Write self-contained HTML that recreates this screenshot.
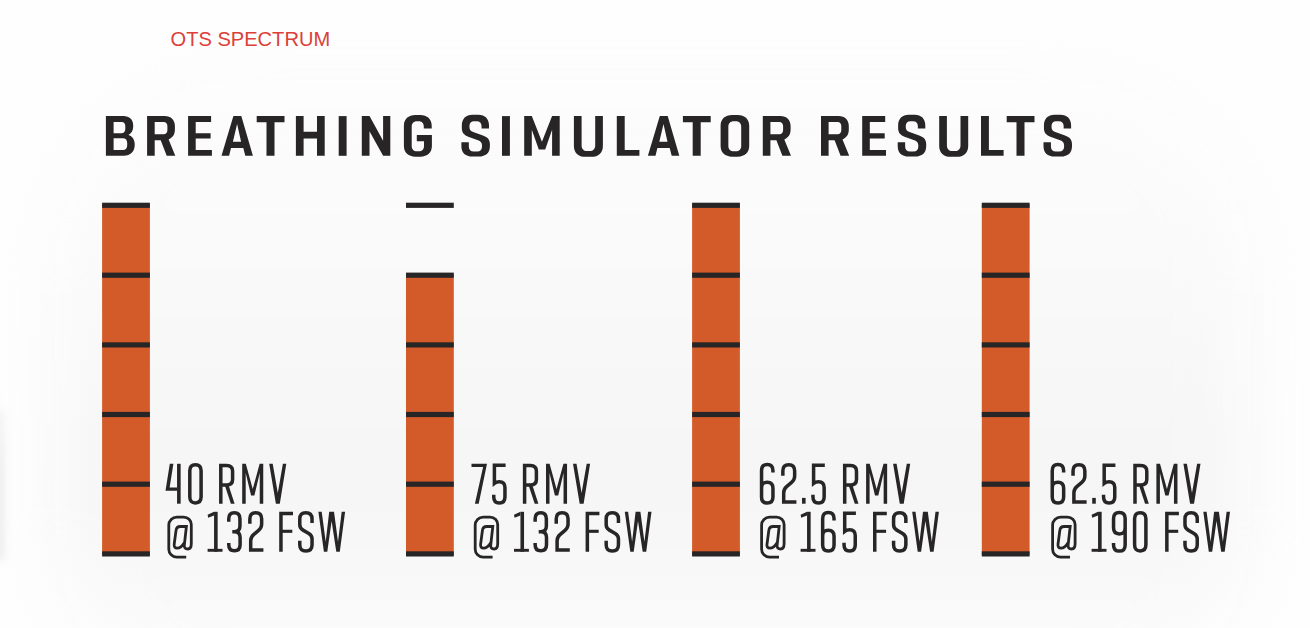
<!DOCTYPE html>
<html lang="en">
<head>
<meta charset="utf-8">
<title>Breathing Simulator Results</title>
<style>
  html, body { margin: 0; padding: 0; }
  body {
    width: 1310px; height: 628px; overflow: hidden; position: relative;
    background: #fefefe;
    font-family: "Liberation Sans", sans-serif;
  }
  .bg {
    position: absolute; left: 0; top: 0; width: 1310px; height: 628px;
    background: #fefefe; overflow: hidden;
  }
  .panel {
    position: absolute; left: 55px; top: 80px; width: 1195px; height: 640px; border-radius: 180px;
    background: linear-gradient(to bottom, #fcfcfc 0px, #fbfbfb 120px, #f9f9f9 220px, #f7f7f7 320px, #f6f6f6 400px, #f7f7f7 460px, #f9f9f9 505px, #fbfbfb 545px, #fcfcfc 600px);
    filter: blur(32px);
  }
  .edge {
    position: absolute; left: -8px; top: 410px; width: 13px; height: 150px;
    background: linear-gradient(to bottom, #f1f1f1 0, #e8e8e8 40%, #e8e8e8 100%); filter: blur(4px); opacity: .7;
  }
  .brand {
    position: absolute; left: 170.5px; top: 28.3px; margin: 0;
    font-size: 20.1px; line-height: 23px; color: #dc3f38; white-space: nowrap; letter-spacing: 0;
  }
  .art { position: absolute; left: 0; top: 0; }
  .sr {
    position: absolute; width: 1px; height: 1px; overflow: hidden;
    clip: rect(0 0 0 0); clip-path: inset(50%); white-space: nowrap;
  }
</style>
</head>
<body>
<div class="bg"><div class="panel"></div></div>
<div class="edge"></div>
<p class="brand">OTS SPECTRUM</p>
<h1 class="sr">BREATHING SIMULATOR RESULTS</h1>
<ul class="sr">
  <li>40 RMV @ 132 FSW</li>
  <li>75 RMV @ 132 FSW</li>
  <li>62.5 RMV @ 165 FSW</li>
  <li>62.5 RMV @ 190 FSW</li>
</ul>
<svg class="art" width="1310" height="628" viewBox="0 0 1310 628" role="img" aria-label="Breathing simulator results chart">
<defs>
<path id="tB" d="M0,0 H17.5 C23.5,0 27.3,3.5 27.3,9.5 V10.5 C27.3,14.5 25.5,17.5 22.5,18.8 C26.5,20 28.8,23.5 28.8,28 V29 C28.8,35.5 24.5,39.7 18,39.7 H0 Z M7.7,6 H16 C18.2,6 19.4,7.8 19.4,10 V13 C19.4,15.5 18,17.2 15.5,17.2 H7.7 Z M7.7,22.2 H17 C19.8,22.2 21.3,24.2 21.3,27 V29.2 C21.3,32 19.8,34 17,34 H7.7 Z"/>
<path id="tR" d="M0,0 H17.5 C24,0 27.8,4 27.8,10 V13.5 C27.8,18.5 25.5,21.8 21.5,23.3 L28.2,39.7 H19.6 L13.6,24.2 H7.6 V39.7 H0 Z M7.6,6 H16.5 C19,6 20.3,7.8 20.3,10.2 V14 C20.3,16.5 19,18.2 16.5,18.2 H7.6 Z"/>
<path id="tE" d="M0,0 H23 V6 H7.6 V17.2 H22.5 V22.4 H7.6 V34 H23.8 V39.7 H0 Z"/>
<path id="tA" d="M11.9,0 H19.8 L31.4,39.7 H23.8 L21.8,31.8 H9.5 L7.6,39.7 H0 Z M15.6,7.8 L19.6,25.6 H11.4 Z"/>
<path id="tT" d="M0,0 H27.8 V6.2 H17.8 V39.7 H9.8 V6.2 H0 Z"/>
<path id="tH" d="M0,0 H7.7 V15.7 H21.1 V0 H28.8 V39.7 H21.1 V22.4 H7.7 V39.7 H0 Z"/>
<path id="tI" d="M0,0 H7.9 V39.7 H0 Z"/>
<path id="tN" d="M0,0 H7.7 L21.3,24.6 V0 H28.5 V39.7 H21.3 L7.7,15.2 V39.7 H0 Z"/>
<path id="tG" d="M27.8,12.5 H19.9 V10.5 C19.9,7.3 18,5.1 15,5.1 H13 C9.8,5.1 7.8,7.3 7.8,10.5 V29.8 C7.8,33 9.8,35.2 13,35.2 H15 C18.2,35.2 20.1,33 20.1,29.8 V25.2 H12.9 V19 H28.0 V30 C28.0,36.5 23.5,40.6 16.5,40.6 H11.5 C4.5,40.6 0,36.5 0,30 V9.4 C0,2.9 4.5,-1.2 11.5,-1.2 H16.3 C23.3,-1.2 27.8,2.9 27.8,9.4 Z"/>
<path id="tS" d="M27.6,12.5 H20.15 V9.6 C20.15,6.8 18.3,5.05 15.3,5.05 H12.6 C9.8,5.05 8.06,6.8 8.06,9.6 V11.2 C8.06,13.6 9.2,15 11.8,15.9 L21.5,19.3 C26.3,21 28.5,23.6 28.5,28 V30.2 C28.5,36.8 24.3,40.5 17.3,40.5 H11 C4.2,40.5 0,36.8 0,30.2 V26.1 H7.44 V30.6 C7.44,33.6 9.3,35.3 12.4,35.3 H15.8 C18.8,35.3 20.6,33.6 20.6,30.6 V29.2 C20.6,26.6 19.3,25.2 16.6,24.2 L6.8,20.6 C2.4,19 0.43,16.3 0.43,12.2 V9.4 C0.43,2.8 4.4,-1.26 11,-1.26 H17 C23.6,-1.26 27.6,2.8 27.6,9.4 Z"/>
<path id="tM" d="M0,0 H7.6 L17.75,25.6 L27.9,0 H35.5 V39.7 H27.9 V13.7 L21,33.5 H14.6 L7.6,13.7 V39.7 H0 Z"/>
<path id="tU" d="M0,0 H7.7 V29.5 C7.7,33 9.8,35 13,35 H16 C19.2,35 21.3,33 21.3,29.5 V0 H29 V29.8 C29,36.6 24.5,40.7 17.5,40.7 H11.5 C4.5,40.7 0,36.6 0,29.8 Z"/>
<path id="tL" d="M0,0 H7.9 V34 H22.6 V39.7 H0 Z"/>
<path id="tO" d="M11.5,-1.2 H17.1 C24.1,-1.2 28.6,2.9 28.6,9.4 V30 C28.6,36.5 24.1,40.6 17.1,40.6 H11.5 C4.5,40.6 0,36.5 0,30 V9.4 C0,2.9 4.5,-1.2 11.5,-1.2 Z M13.2,5.1 C9.8,5.1 7.75,7.3 7.75,10.5 V29.8 C7.75,33 9.8,35.2 13.2,35.2 H15.2 C18.6,35.2 20.6,33 20.6,29.8 V10.5 C20.6,7.3 18.6,5.1 15.2,5.1 Z"/>
<g id="l0"><path d="M1.8,7 C1.8,2.85 3.61,0.9 7.45,0.9 C11.29,0.9 13.1,2.85 13.1,7 L13.1,33 C13.1,37.15 11.29,39.1 7.45,39.1 C3.61,39.1 1.8,37.15 1.8,33 Z" fill="none" stroke="#272526" stroke-width="3.5" stroke-linejoin="miter" stroke-miterlimit="6"/></g>
<g id="l4"><path d="M4.3,0 H7.9 L4.12,23.75 H11.6 V27.05 H0 Z" fill="#272526"/><path d="M13.35,0 V39.9" fill="none" stroke="#272526" stroke-width="3.6" stroke-linejoin="miter" stroke-miterlimit="6"/></g>
<g id="lR"><path d="M1.8,39.9 L1.8,1.7 L7.6,1.7 C11.68,1.7 13.6,3.56 13.6,7.5 L13.6,15.5 C13.6,19.44 11.68,21.3 7.6,21.3 L1.8,21.3" fill="none" stroke="#272526" stroke-width="3.5" stroke-linejoin="miter" stroke-miterlimit="6"/><path d="M5.7,21.3 H9.5 L15.6,39.9 H11.9 Z" fill="#272526"/></g>
<g id="lM"><path d="M0,0 H3.6 L10.53,25.3 L17.45,0 H21.05 V39.9 H17.55 V9.3 L12.2,31.65 H8.9 L3.5,9.3 V39.9 H0 Z" fill="#272526"/></g>
<g id="lV"><path d="M0,0 H3.5 L8.6,29.3 L13.7,0 H17.1 L10.6,39.9 H6.7 Z" fill="#272526"/></g>
<g id="lW"><path d="M0,0 H3.3 L7.3,30 L10.8,0 H15.6 L19.6,30 L23.3,0 H26.7 L21.4,39.9 H17.9 L13.2,9.3 L8.9,39.9 H5.5 Z" fill="#272526"/></g>
<g id="lF"><path d="M1.85,39.9 V1.65 H13.9" fill="none" stroke="#272526" stroke-width="3.5" stroke-linejoin="miter" stroke-miterlimit="6"/><path d="M1.85,19.5 H13.2" fill="none" stroke="#272526" stroke-width="3.1" stroke-linejoin="miter" stroke-miterlimit="6"/></g>
<g id="lS"><path d="M14.05,11.1 L14.05,7.2 C14.05,2.92 12.08,0.9 7.9,0.9 C3.74,0.9 1.78,2.92 1.78,7.2 L1.78,13 Q1.78,16.5 5,18.3 L10.8,21.6 Q14.05,23.5 14.05,27 L14.05,33 C14.05,37.25 12.08,39.25 7.9,39.25 C3.74,39.25 1.78,37.25 1.78,33 L1.78,29" fill="none" stroke="#272526" stroke-width="3.5" stroke-linejoin="miter" stroke-miterlimit="6"/></g>
<g id="l1"><path d="M8.25,0 V39.9" fill="none" stroke="#272526" stroke-width="3.6" stroke-linejoin="miter" stroke-miterlimit="6"/><path d="M0,38.5 H14.9" fill="none" stroke="#272526" stroke-width="2.9" stroke-linejoin="miter" stroke-miterlimit="6"/><path d="M6.45,0 L0,3.0 L0.6,6.0 L6.45,3.6 Z" fill="#272526"/></g>
<g id="l3"><path d="M1.75,9.9 L1.75,7 C1.75,2.92 3.54,1 7.35,1 C11.16,1 12.95,2.92 12.95,7 L12.95,14.3 C12.95,18.11 11.22,19.9 7.55,19.9 L5.3,19.9 M7.55,19.9 C11.32,19.9 13.1,21.72 13.1,25.6 L13.1,33 C13.1,37.08 11.28,39 7.4,39 C3.56,39 1.75,37.08 1.75,33 L1.75,31.3" fill="none" stroke="#272526" stroke-width="3.5" stroke-linejoin="miter" stroke-miterlimit="6"/></g>
<g id="l2"><path d="M1.75,12 L1.75,7 C1.75,2.85 3.64,0.9 7.65,0.9 C11.66,0.9 13.55,2.85 13.55,7 L13.55,12.5 Q13.55,16 10.5,18.5 L5.5,22.8 Q2.6,25.3 2.6,29 L2.6,38.3 L15.3,38.3" fill="none" stroke="#272526" stroke-width="3.5" stroke-linejoin="miter" stroke-miterlimit="6"/></g>
<g id="l5"><path d="M13.6,1.5 L2.4,1.5 L2.4,19.6 Q4.6,17.9 7.3,17.9 C11.14,17.9 12.95,19.79 12.95,23.8 L12.95,33.3 C12.95,37.38 11.16,39.3 7.35,39.3 C3.54,39.3 1.75,37.38 1.75,33.3 L1.75,31" fill="none" stroke="#272526" stroke-width="3.5" stroke-linejoin="miter" stroke-miterlimit="6"/></g>
<g id="l6"><path d="M13.15,8.7 L13.15,6.9 C13.15,2.68 11.33,0.7 7.45,0.7 C3.57,0.7 1.75,2.68 1.75,6.9 L1.75,33.2 C1.75,37.35 3.57,39.3 7.45,39.3 C11.33,39.3 13.15,37.35 13.15,33.2 L13.15,24.4 C13.15,20.29 11.33,18.35 7.45,18.35 C3.57,18.35 1.75,20.29 1.75,24.4" fill="none" stroke="#272526" stroke-width="3.5" stroke-linejoin="miter" stroke-miterlimit="6"/></g>
<g id="l9"><path d="M1.95,31.3 L1.95,33.1 C1.95,37.32 3.81,39.3 7.75,39.3 C11.69,39.3 13.55,37.32 13.55,33.1 L13.55,6.8 C13.55,2.65 11.69,0.7 7.75,0.7 C3.81,0.7 1.95,2.65 1.95,6.8 L1.95,16 C1.95,20.15 3.81,22.1 7.75,22.1 C11.69,22.1 13.55,20.15 13.55,16" fill="none" stroke="#272526" stroke-width="3.5" stroke-linejoin="miter" stroke-miterlimit="6"/></g>
<g id="l7"><path d="M0,0 H15.5 L7.2,39.9 H3.4 L11.6,3.2 H0 Z" fill="#272526"/></g>
<g id="ldot"><path d="M0,34.1 H3.6 V39.9 H0 Z" fill="#272526"/></g>
<g id="lat"><path d="M19.1,45.4 H9.7 A8,8 0 0 1 1.7,37.4 V13.26 A8,8 0 0 1 9.7,5.26 H16.7 A7.5,7.5 0 0 1 24.2,12.76 V32 C24.2,35.5 23,37.2 20.6,37.2 C18.2,37.2 17.0,35.8 17.2,33.5 L19.3,14.7 H13.2 C10.5,14.7 9.2,16.3 8.9,18.8 L7.1,32.5 C6.8,35 7.8,36.4 10,36.4 C13,36.4 15.5,34 17.2,31" fill="none" stroke="#272526" stroke-width="2.8" stroke-linejoin="miter" stroke-miterlimit="6"/></g>
</defs>
<g id="bars">
<rect x="102.1" y="204.2" width="47.8" height="350.8" fill="#D35B29"/>
<rect x="102.1" y="202.7" width="47.8" height="5.2" fill="#272526"/>
<rect x="102.1" y="272.6" width="47.8" height="5.2" fill="#272526"/>
<rect x="102.1" y="342.3" width="47.8" height="5.2" fill="#272526"/>
<rect x="102.1" y="411.9" width="47.8" height="5.2" fill="#272526"/>
<rect x="102.1" y="481.6" width="47.8" height="5.2" fill="#272526"/>
<rect x="102.1" y="551.3" width="47.8" height="5.2" fill="#272526"/>
<rect x="406" y="274.1" width="47.8" height="280.9" fill="#D35B29"/>
<rect x="406" y="202.7" width="47.8" height="5.2" fill="#272526"/>
<rect x="406" y="272.6" width="47.8" height="5.2" fill="#272526"/>
<rect x="406" y="342.3" width="47.8" height="5.2" fill="#272526"/>
<rect x="406" y="411.9" width="47.8" height="5.2" fill="#272526"/>
<rect x="406" y="481.6" width="47.8" height="5.2" fill="#272526"/>
<rect x="406" y="551.3" width="47.8" height="5.2" fill="#272526"/>
<rect x="692.1" y="204.2" width="47.8" height="350.8" fill="#D35B29"/>
<rect x="692.1" y="202.7" width="47.8" height="5.2" fill="#272526"/>
<rect x="692.1" y="272.6" width="47.8" height="5.2" fill="#272526"/>
<rect x="692.1" y="342.3" width="47.8" height="5.2" fill="#272526"/>
<rect x="692.1" y="411.9" width="47.8" height="5.2" fill="#272526"/>
<rect x="692.1" y="481.6" width="47.8" height="5.2" fill="#272526"/>
<rect x="692.1" y="551.3" width="47.8" height="5.2" fill="#272526"/>
<rect x="981.8" y="204.2" width="47.8" height="350.8" fill="#D35B29"/>
<rect x="981.8" y="202.7" width="47.8" height="5.2" fill="#272526"/>
<rect x="981.8" y="272.6" width="47.8" height="5.2" fill="#272526"/>
<rect x="981.8" y="342.3" width="47.8" height="5.2" fill="#272526"/>
<rect x="981.8" y="411.9" width="47.8" height="5.2" fill="#272526"/>
<rect x="981.8" y="481.6" width="47.8" height="5.2" fill="#272526"/>
<rect x="981.8" y="551.3" width="47.8" height="5.2" fill="#272526"/>
</g>
<g id="title" fill="#272526" fill-rule="evenodd">
<use href="#tB" x="105.9" y="116.1"/>
<use href="#tR" x="147.1" y="116.1"/>
<use href="#tE" x="188.1" y="116.1"/>
<use href="#tA" x="221.5" y="116.1"/>
<use href="#tT" x="256.7" y="116.1"/>
<use href="#tH" x="295.9" y="116.1"/>
<use href="#tI" x="338.7" y="116.1"/>
<use href="#tN" x="361.8" y="116.1"/>
<use href="#tG" x="403.9" y="116.1"/>
<use href="#tS" x="461.4" y="116.1"/>
<use href="#tI" x="502" y="116.1"/>
<use href="#tM" x="524.2" y="116.1"/>
<use href="#tU" x="573.9" y="116.1"/>
<use href="#tL" x="616.8" y="116.1"/>
<use href="#tA" x="647.9" y="116.1"/>
<use href="#tT" x="682.9" y="116.1"/>
<use href="#tO" x="720.6" y="116.1"/>
<use href="#tR" x="762.8" y="116.1"/>
<use href="#tR" x="821" y="116.1"/>
<use href="#tE" x="862.2" y="116.1"/>
<use href="#tS" x="897.7" y="116.1"/>
<use href="#tU" x="939.2" y="116.1"/>
<use href="#tL" x="981" y="116.1"/>
<use href="#tT" x="1006.7" y="116.1"/>
<use href="#tS" x="1043.5" y="116.1"/>
</g>
<g id="labels">
<use href="#l4" x="165.5" y="463.8"/>
<use href="#l0" x="188" y="463.8"/>
<use href="#lR" x="219" y="463.8"/>
<use href="#lM" x="242.2" y="463.8"/>
<use href="#lV" x="269.2" y="463.8"/>
<use href="#lat" x="167.1" y="511.8"/>
<use href="#l1" x="207.6" y="511.8"/>
<use href="#l3" x="227" y="511.8"/>
<use href="#l2" x="248.1" y="511.8"/>
<use href="#lF" x="279.1" y="511.8"/>
<use href="#lS" x="298" y="511.8"/>
<use href="#lW" x="318.4" y="511.8"/>
<use href="#l7" x="471.5" y="463.8"/>
<use href="#l5" x="492" y="463.8"/>
<use href="#lR" x="522.8" y="463.8"/>
<use href="#lM" x="546" y="463.8"/>
<use href="#lV" x="573" y="463.8"/>
<use href="#lat" x="473.5" y="511.8"/>
<use href="#l1" x="514" y="511.8"/>
<use href="#l3" x="533.4" y="511.8"/>
<use href="#l2" x="554.5" y="511.8"/>
<use href="#lF" x="585.5" y="511.8"/>
<use href="#lS" x="604.4" y="511.8"/>
<use href="#lW" x="624.8" y="511.8"/>
<use href="#l6" x="759.8" y="463.8"/>
<use href="#l2" x="781.1" y="463.8"/>
<use href="#ldot" x="802" y="463.8"/>
<use href="#l5" x="811.2" y="463.8"/>
<use href="#lR" x="842.9" y="463.8"/>
<use href="#lM" x="866.1" y="463.8"/>
<use href="#lV" x="893.1" y="463.8"/>
<use href="#lat" x="759.9" y="511.8"/>
<use href="#l1" x="800.6" y="511.8"/>
<use href="#l6" x="820.9" y="511.8"/>
<use href="#l5" x="842.3" y="511.8"/>
<use href="#lF" x="872.9" y="511.8"/>
<use href="#lS" x="891.8" y="511.8"/>
<use href="#lW" x="912.2" y="511.8"/>
<use href="#l6" x="1050.5" y="463.8"/>
<use href="#l2" x="1071.3" y="463.8"/>
<use href="#ldot" x="1092.2" y="463.8"/>
<use href="#l5" x="1101.8" y="463.8"/>
<use href="#lR" x="1133.2" y="463.8"/>
<use href="#lM" x="1156.4" y="463.8"/>
<use href="#lV" x="1183.4" y="463.8"/>
<use href="#lat" x="1050.9" y="511.8"/>
<use href="#l1" x="1091.6" y="511.8"/>
<use href="#l9" x="1111.6" y="511.8"/>
<use href="#l0" x="1132.8" y="511.8"/>
<use href="#lF" x="1165" y="511.8"/>
<use href="#lS" x="1183.2" y="511.8"/>
<use href="#lW" x="1203.3" y="511.8"/>
</g>
</svg>
</body>
</html>
